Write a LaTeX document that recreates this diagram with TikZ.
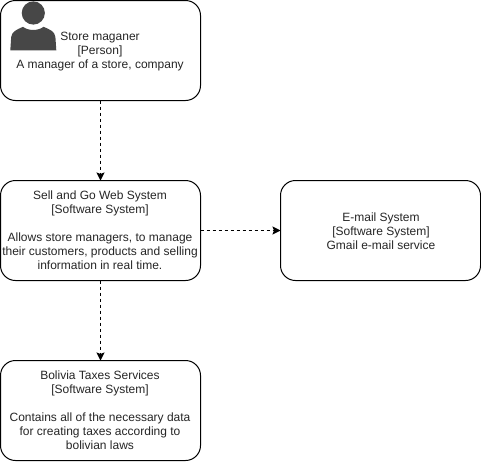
\documentclass[tikz,border=0pt]{standalone}
\usepackage{fontspec}
\setmainfont{Liberation Sans}
\usetikzlibrary{arrows.meta}
\tikzset{
  sysbox/.style={draw=black,line width=1pt,rounded corners=15pt,minimum width=200pt,minimum height=100pt,inner sep=0pt,outer sep=0pt,fill=white},
  boxtext/.style={align=center,font=\fontsize{12pt}{14pt}\selectfont,text=black!85,inner sep=0pt},
  rel/.style={draw=black,line width=1pt,dash pattern=on 3pt off 3pt,-{Stealth[length=8pt,width=8pt,inset=1.5pt]}}
}
\begin{document}
\begin{tikzpicture}[x=1pt,y=-1pt]
\useasboundingbox (0,0) rectangle (481,461);
\node[sysbox] (person) at (100.5,50.5) {};
\node[sysbox] (web) at (100.5,230.5) {};
\node[sysbox] (mail) at (380.5,230.5) {};
\node[sysbox] (tax) at (100.5,410.5) {};
\node[boxtext] (persontext) at (100,52) {Store maganer\\\relax [Person]\\A manager of a store, company};
\node[boxtext] (webtext) at (100,230) {Sell and Go Web System\\\relax [Software System]\\[14pt]Allows store managers, to manage\\their customers, products and selling\\information in real time.};
\node[boxtext] (mailtext) at (381,231.5) {E-mail System\\\relax [Software System]\\Gmail e-mail service};
\node[boxtext] (taxtext) at (100,410) {Bolivia Taxes Services\\\relax [Software System]\\[14pt]Contains all of the necessary data\\for creating taxes according to\\bolivian laws};
\fill[black!72] (33.3,13) circle (11.6);
\fill[black!72] (10.3,50.3) -- (11.2,37) .. controls (11.8,31.5) and (17,29.5) .. (23,26.8)
  .. controls (28,31) and (38.5,31) .. (43.5,26.8)
  .. controls (50,29.5) and (54.8,31.5) .. (55.4,37) -- (56.3,50.3) -- cycle;
\draw[rel] (person) -- (web);
\draw[rel] (web) -- (mail);
\draw[rel] (web) -- (tax);
\end{tikzpicture}
\end{document}
